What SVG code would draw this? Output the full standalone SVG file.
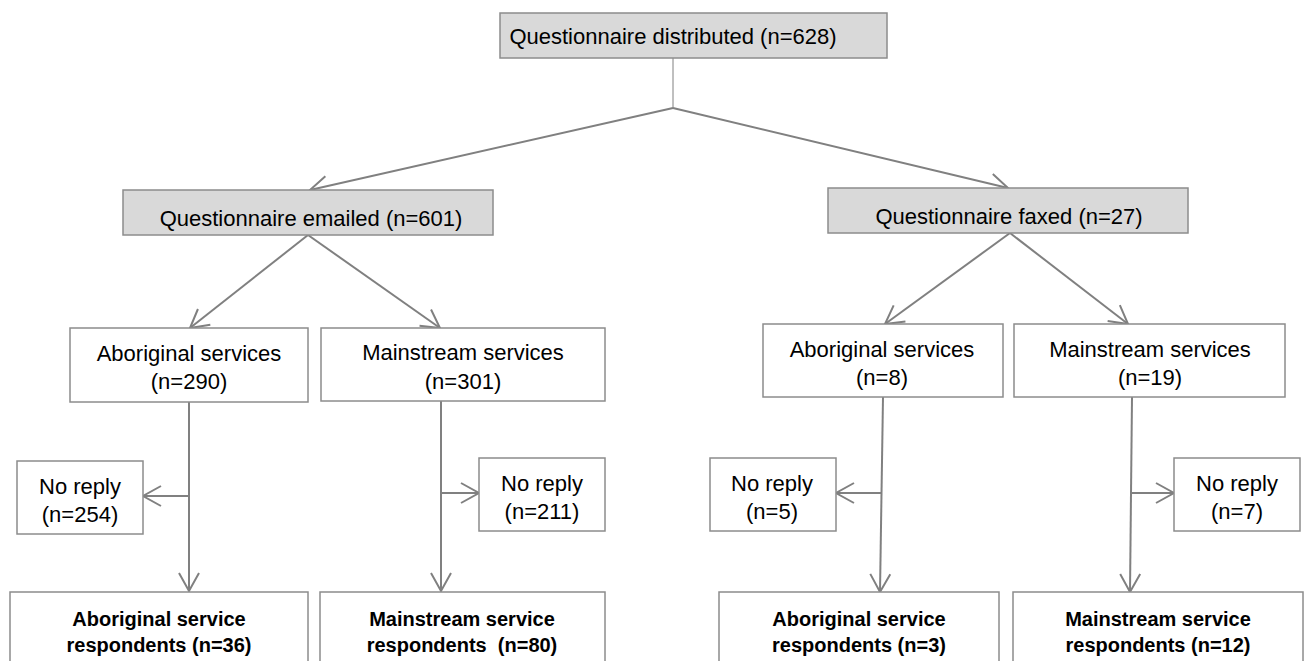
<svg xmlns="http://www.w3.org/2000/svg" width="1314" height="661" viewBox="0 0 1314 661">
  <style>
    .box { fill: #ffffff; stroke: #8c8c8c; stroke-width: 1.5; }
    .shade { fill: #d9d9d9; stroke: #8c8c8c; stroke-width: 1.5; }
    .lbl { font-family: "Liberation Sans", Arial, sans-serif; font-size: 22px; fill: #000000; text-anchor: middle; }
    .bold { font-family: "Liberation Sans", Arial, sans-serif; font-size: 20px; font-weight: bold; fill: #000000; text-anchor: middle; }
    .conn { stroke: #808080; stroke-width: 2; fill: none; }
    .thin { stroke: #808080; stroke-width: 1; fill: none; }
  </style>
  <defs>
    <marker id="arrow" markerUnits="userSpaceOnUse" markerWidth="24" markerHeight="24" viewBox="-20 -12 24 24" refX="0" refY="0" orient="auto">
      <path d="M-18,-10 L0,0 L-18,10" fill="none" stroke="#808080" stroke-width="2"/>
    </marker>
  </defs>

  <rect width="1314" height="661" fill="#ffffff"/>

  <g id="connectors">
    <line class="thin" x1="673" y1="58" x2="673" y2="108"/>
    <line class="conn" x1="673" y1="108" x2="310" y2="190" marker-end="url(#arrow)"/>
    <line class="conn" x1="673" y1="108" x2="1008" y2="188" marker-end="url(#arrow)"/>

    <line class="conn" x1="308" y1="235" x2="190" y2="328" marker-end="url(#arrow)"/>
    <line class="conn" x1="308" y1="235" x2="440" y2="328" marker-end="url(#arrow)"/>
    <line class="conn" x1="1010" y1="233" x2="885" y2="324" marker-end="url(#arrow)"/>
    <line class="conn" x1="1010" y1="233" x2="1128" y2="324" marker-end="url(#arrow)"/>

    <line class="conn" x1="189" y1="402" x2="189" y2="591" marker-end="url(#arrow)"/>
    <line class="conn" x1="189" y1="496" x2="143" y2="496" marker-end="url(#arrow)"/>

    <line class="conn" x1="441" y1="401" x2="441" y2="591" marker-end="url(#arrow)"/>
    <line class="conn" x1="441" y1="493" x2="479" y2="493" marker-end="url(#arrow)"/>

    <line class="conn" x1="883" y1="397" x2="880" y2="592" marker-end="url(#arrow)"/>
    <line class="conn" x1="882" y1="493" x2="836" y2="493" marker-end="url(#arrow)"/>

    <line class="conn" x1="1132" y1="397" x2="1130" y2="592" marker-end="url(#arrow)"/>
    <line class="conn" x1="1131" y1="493" x2="1174" y2="493" marker-end="url(#arrow)"/>
  </g>

  <g id="distributed">
    <rect class="shade" x="500" y="13" width="387" height="45"/>
    <text class="lbl" x="673" y="44">Questionnaire distributed (n=628)</text>
  </g>

  <g id="emailed">
    <rect class="shade" x="123" y="190" width="370" height="45"/>
    <text class="lbl" x="311" y="226">Questionnaire emailed (n=601)</text>
  </g>

  <g id="faxed">
    <rect class="shade" x="828" y="188" width="360" height="45"/>
    <text class="lbl" x="1009" y="224">Questionnaire faxed (n=27)</text>
  </g>

  <g id="email-aboriginal">
    <rect class="box" x="70" y="328" width="238" height="74"/>
    <text class="lbl" x="189" y="361">Aboriginal services</text>
    <text class="lbl" x="189" y="389">(n=290)</text>
  </g>

  <g id="email-mainstream">
    <rect class="box" x="321" y="328" width="284" height="73"/>
    <text class="lbl" x="463" y="360">Mainstream services</text>
    <text class="lbl" x="463" y="389">(n=301)</text>
  </g>

  <g id="fax-aboriginal">
    <rect class="box" x="763" y="324" width="240" height="73"/>
    <text class="lbl" x="882" y="357">Aboriginal services</text>
    <text class="lbl" x="882" y="385">(n=8)</text>
  </g>

  <g id="fax-mainstream">
    <rect class="box" x="1014" y="324" width="271" height="73"/>
    <text class="lbl" x="1150" y="357">Mainstream services</text>
    <text class="lbl" x="1150" y="385">(n=19)</text>
  </g>

  <g id="email-aboriginal-noreply">
    <rect class="box" x="17" y="461" width="126" height="73"/>
    <text class="lbl" x="80" y="494">No reply</text>
    <text class="lbl" x="80" y="522">(n=254)</text>
  </g>

  <g id="email-mainstream-noreply">
    <rect class="box" x="479" y="458" width="126" height="73"/>
    <text class="lbl" x="542" y="491">No reply</text>
    <text class="lbl" x="542" y="519">(n=211)</text>
  </g>

  <g id="fax-aboriginal-noreply">
    <rect class="box" x="710" y="458" width="126" height="73"/>
    <text class="lbl" x="772" y="491">No reply</text>
    <text class="lbl" x="772" y="519">(n=5)</text>
  </g>

  <g id="fax-mainstream-noreply">
    <rect class="box" x="1174" y="458" width="126" height="73"/>
    <text class="lbl" x="1237" y="491">No reply</text>
    <text class="lbl" x="1237" y="519">(n=7)</text>
  </g>

  <g id="email-aboriginal-respondents">
    <rect class="box" x="10" y="592" width="298" height="90"/>
    <text class="bold" x="159" y="626">Aboriginal service</text>
    <text class="bold" x="159" y="652">respondents (n=36)</text>
  </g>

  <g id="email-mainstream-respondents">
    <rect class="box" x="320" y="592" width="285" height="90"/>
    <text class="bold" x="462" y="626">Mainstream service</text>
    <text class="bold" x="462" y="652" xml:space="preserve">respondents  (n=80)</text>
  </g>

  <g id="fax-aboriginal-respondents">
    <rect class="box" x="719" y="592" width="280" height="90"/>
    <text class="bold" x="859" y="626">Aboriginal service</text>
    <text class="bold" x="859" y="652">respondents (n=3)</text>
  </g>

  <g id="fax-mainstream-respondents">
    <rect class="box" x="1013" y="592" width="290" height="90"/>
    <text class="bold" x="1158" y="626">Mainstream service</text>
    <text class="bold" x="1158" y="652">respondents (n=12)</text>
  </g>
</svg>
